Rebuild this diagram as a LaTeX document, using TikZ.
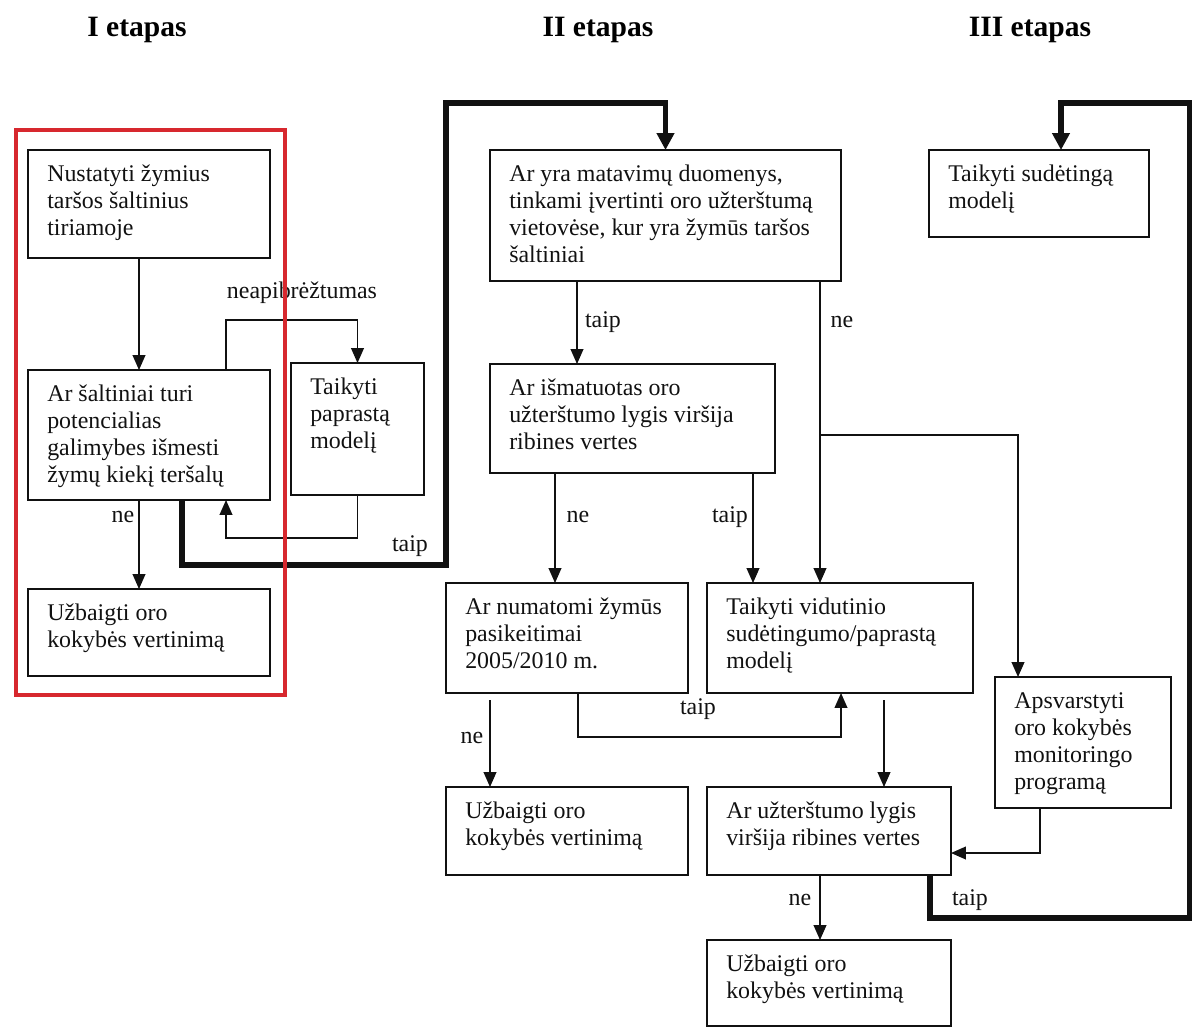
\documentclass[tikz,border=0pt]{standalone}
\usepackage{fontspec}
\setmainfont{Liberation Serif}
\usetikzlibrary{arrows.meta, positioning, calc}
\definecolor{framered}{HTML}{D7282E}
\definecolor{inkline}{HTML}{111111}
\tikzset{
  boxframe/.style={draw=inkline, line width=1pt, inner sep=0pt, outer sep=0pt},
  boxtext/.style={inner sep=0pt, align=left, text=inkline},
  flow/.style={draw=inkline, line width=1pt, -{Triangle[length=10.5pt, width=9pt]}},
  mainflow/.style={draw=inkline, line width=3.6pt, -{Triangle[length=12pt, width=12pt]}},
  lbl/.style={inner sep=0pt, text=inkline},
  stagehead/.style={inner sep=0pt, font=\fontsize{21}{24}\selectfont\bfseries}
}
\newcommand{\flowbox}[6]{%
  \node[boxframe, minimum width=#4*0.025cm, minimum height=#5*0.025cm,
        anchor=north west] (#1) at (#2,#3) {};
  \node[boxtext, anchor=north west] (#1-txt) at ($(#1.north west)+(19,15)$) {#6};}

\begin{document}
\begin{tikzpicture}[x=0.025cm, y=-0.025cm, font=\fontsize{17}{19.2}\selectfont]
      \useasboundingbox (0,0) rectangle (1192,1028);
      % stage headings
      \node[stagehead] (headI) at (137,30) {I etapas};
      \node[stagehead] (headII) at (598,30) {II etapas};
      \node[stagehead] (headIII) at (1030,30) {III etapas};
      % boxes
      \flowbox{nust}{28}{150}{242}{108}{Nustatyti žymius\\taršos šaltinius\\tiriamoje}
      \flowbox{salt}{28}{370}{242}{130}{Ar šaltiniai turi\\potencialias\\galimybes išmesti\\žymų kiekį teršalų}
      \flowbox{papr}{291}{363}{133}{132}{Taikyti\\paprastą\\modelį}
      \flowbox{endI}{28}{589}{242}{87}{Užbaigti oro\\kokybės vertinimą}
      \flowbox{matav}{490}{150}{351}{131}{Ar yra matavimų duomenys,\\tinkami įvertinti oro užterštumą\\vietovėse, kur yra žymūs taršos\\šaltiniai}
      \flowbox{ismat}{490}{364}{285}{109}{Ar išmatuotas oro\\užterštumo lygis viršija\\ribines vertes}
      \flowbox{numat}{446}{583}{242}{110}{Ar numatomi žymūs\\pasikeitimai\\2005/2010 m.}
      \flowbox{vidut}{707}{583}{266}{110}{Taikyti vidutinio\\sudėtingumo/paprastą\\modelį}
      \flowbox{sudet}{929}{150}{220}{87}{Taikyti sudėtingą\\modelį}
      \flowbox{monit}{995}{677}{176}{131}{Apsvarstyti\\oro kokybės\\monitoringo\\programą}
      \flowbox{endII}{446}{787}{242}{88}{Užbaigti oro\\kokybės vertinimą}
      \flowbox{virs}{707}{787}{244}{88}{Ar užterštumo lygis\\viršija ribines vertes}
      \flowbox{endIII}{707}{940}{244}{86}{Užbaigti oro\\kokybės vertinimą}
      % first stage connectors
      \draw[flow] ($(nust.south west)+(111,0)$) -- ($(salt.north west)+(111,0)$);
      \draw[flow] ($(salt.north west)+(198,0)$) -- ++(0,-50) -| (papr.north);
      \draw[flow] (papr.south) -- ++(0,43) -| ($(salt.south west)+(198,0)$);
      \draw[flow] ($(salt.south west)+(111,0)$) -- ($(endI.north west)+(111,0)$);
      \draw[mainflow] ($(salt.south west)+(154,0)$) -- ++(0,65) -- ++(264,0)
                      -- ++(0,-462) -| (matav.north);
      % second stage connectors
      \coordinate (nebranch) at ($(matav.south west)+(330,154)$);
      \draw[flow] ($(matav.south west)+(87,0)$) -- ($(ismat.north west)+(87,0)$);
      \draw[flow] ($(matav.south west)+(330,0)$) -- ($(vidut.north west)+(113,0)$);
      \draw[flow] (nebranch) -| ($(monit.north west)+(23,0)$);
      \draw[flow] ($(ismat.south west)+(65,0)$) -- ($(numat.north west)+(109,0)$);
      \draw[flow] ($(ismat.south west)+(263,0)$) -- ($(vidut.north west)+(46,0)$);
      \draw[flow] ($(numat.south west)+(132,0)$) -- ++(0,44) -| ($(vidut.south west)+(134,0)$);
      \draw[flow] ($(numat.south west)+(44,7)$) -- ($(endII.north west)+(44,0)$);
      \draw[flow] ($(vidut.south west)+(177,7)$) -- ($(virs.north west)+(177,0)$);
      \draw[flow] ($(monit.south west)+(45,0)$) |- ($(virs.north east)+(0,66)$);
      \draw[flow] ($(virs.south west)+(113,0)$) -- ($(endIII.north west)+(113,0)$);
      \draw[mainflow] ($(virs.south east)+(-21,0)$) -- ++(0,43) -- ++(260,0)
                      -- ++(0,-815) -| ($(sudet.north west)+(132,0)$);
      % labels
      \node[lbl] (lab-neap) at (302,293) {neapibrėžtumas};
      \node[lbl] (lab-neI) at (123,517) {ne};
      \node[lbl] (lab-taipI) at (410,546) {taip};
      \node[lbl] (lab-taipE) at (603,322) {taip};
      \node[lbl] (lab-neE) at (842,322) {ne};
      \node[lbl] (lab-neF) at (578,517) {ne};
      \node[lbl] (lab-taipF) at (730,517) {taip};
      \node[lbl] (lab-taipG) at (698,709) {taip};
      \node[lbl] (lab-neG) at (472,738) {ne};
      \node[lbl] (lab-neL) at (800,900) {ne};
      \node[lbl] (lab-taipL) at (970,900) {taip};
      % first stage frame, on top
      \node[draw=framered, line width=2.9pt, inner sep=0pt, minimum width=269*0.025cm,
            minimum height=565*0.025cm, anchor=north west] (stageI) at (14,128) {};
    \end{tikzpicture}
\end{document}
